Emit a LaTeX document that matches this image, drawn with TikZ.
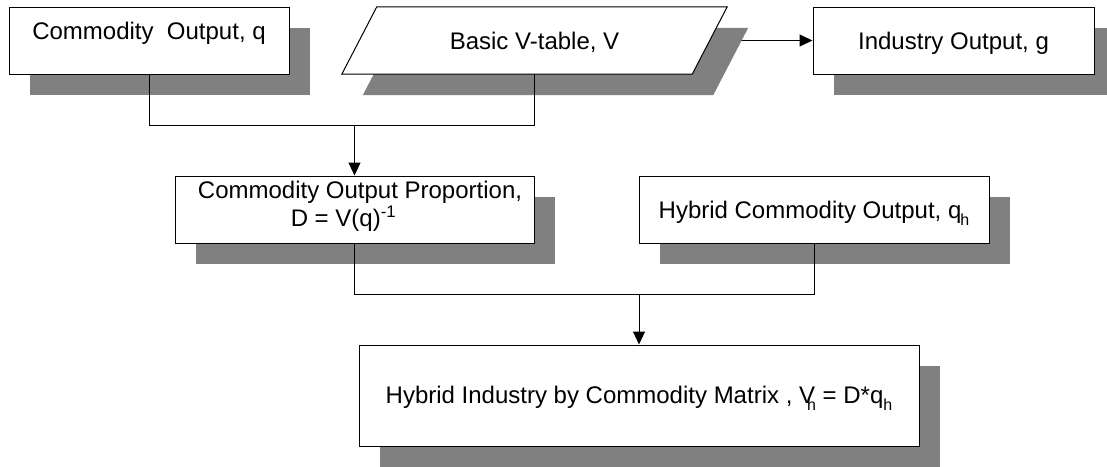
\documentclass[tikz,border=0pt]{standalone}
\usepackage{fontspec}
\setmainfont{Liberation Sans}
\usetikzlibrary{shadows,arrows.meta,backgrounds,calc}
\definecolor{shadowgray}{HTML}{808080}
\tikzset{
  box/.style={draw=black, line width=1pt, fill=white, inner sep=0pt, align=center,
    font=\fontsize{24}{27}\selectfont,
    drop shadow={shadow xshift=21pt, shadow yshift=-21pt, fill=shadowgray, opacity=1}},
  oneline/.style={text height=18pt, text depth=0pt},
  conn/.style={line width=1pt, draw=black},
  arr/.style={conn, -{Triangle[length=13pt,width=12pt]}},
}
\newcommand{\subh}{\raisebox{-0.3em}{\fontsize{16}{16}\selectfont h}}
\begin{document}
\begin{tikzpicture}[x=1pt,y=-1pt]
\useasboundingbox (0,0) rectangle (1107,466);
\node[box, text height=18pt, text depth=21pt, minimum width=280pt, minimum height=67pt] (C) at (149,40.5) {Commodity\ \ Output, q};
\node[inner sep=0pt, oneline, minimum width=385pt, minimum height=67pt, font=\fontsize{24}{27}\selectfont] (V) at (534.5,40.5) {Basic V-table, V};
\node[box, oneline, minimum width=281pt, minimum height=67pt] (I) at (953.5,40.5) {Industry Output, g};
\node[box, minimum width=359pt, minimum height=67pt] (D) at (354.5,209.5) {\raisebox{2.5pt}[\height][\depth]{\begin{tabular}{@{}c@{}}\hspace*{11pt}Commodity Output Proportion,\\D = V(q)\textsuperscript{-1}\hspace*{22pt}\end{tabular}}};
\node[box, oneline, minimum width=350pt, minimum height=67pt] (H) at (814,209.5) {Hybrid Commodity Output, q\kern-1pt\subh};
\node[box, text height=16pt, text depth=0pt, minimum width=560pt, minimum height=101pt] (M) at (639,395.5) {Hybrid Industry by Commodity Matrix , V\kern-8pt\subh{} = D*q\subh};
\begin{pgfonlayer}{background}
  \draw[arr] (V.east) -- (I.west);
  \fill[shadowgray] ([shift={(21,21)}]V.south west) -- ([shift={(-14,21)}]V.south east)
    -- ([shift={(21,21)}]V.north east) -- ([shift={(56,21)}]V.north west) -- cycle;
  \filldraw[fill=white, draw=black, line width=1pt] (V.south west) -- ([xshift=-35pt]V.south east)
    -- (V.north east) -- ([xshift=35pt]V.north west) -- cycle;
\end{pgfonlayer}
\coordinate (j1) at (354.5,125);
\draw[conn] (C.south) |- (j1);
\draw[conn] (V.south) |- (j1);
\draw[arr] (j1) -- (D.north);
\coordinate (j2) at (639,294);
\draw[conn] (D.south) |- (j2);
\draw[conn] (H.south) |- (j2);
\draw[arr] (j2) -- (M.north);
\end{tikzpicture}
\end{document}
